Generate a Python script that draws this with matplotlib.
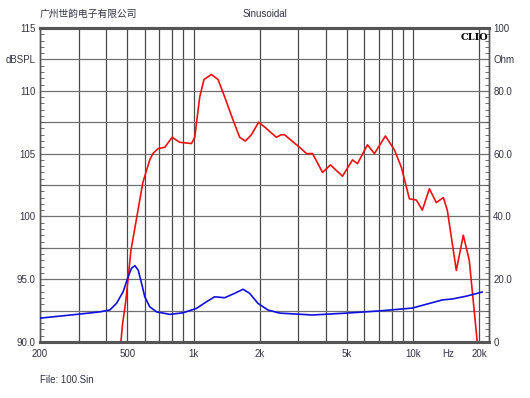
import matplotlib
matplotlib.use('Agg')
import matplotlib.pyplot as plt
from matplotlib.ticker import FixedLocator, MultipleLocator

plt.rcParams['font.family'] = ['Liberation Sans', 'Noto Sans CJK SC', 'DejaVu Sans']

# SPL curve (dB SPL, left axis)
spl_freq = [467, 475, 492, 519, 588, 632, 653, 690, 740, 799, 866, 979, 1013,
            1067, 1116, 1206, 1293, 1387, 1512, 1622, 1722, 1834, 1979, 2146,
            2382, 2510, 2598, 3039, 3271, 3484, 3868, 4204, 4768, 5294, 5580,
            6194, 6663, 7478, 8216, 8842, 9612, 10342, 11012, 11854, 12750,
            13722, 14306, 15726, 16918, 18012, 19586]
spl_db = [90.0, 91.4, 93.3, 97.3, 102.7, 104.5, 105.0, 105.4, 105.5, 106.3,
          105.9, 105.8, 106.3, 109.5, 110.9, 111.3, 110.9, 109.5, 107.7, 106.3,
          106.0, 106.5, 107.5, 107.0, 106.3, 106.5, 106.5, 105.5, 105.0, 105.0,
          103.5, 104.1, 103.2, 104.5, 104.2, 105.7, 105.0, 106.4, 105.3, 103.9,
          101.4, 101.3, 100.5, 102.2, 101.1, 101.5, 100.5, 95.7, 98.5, 96.5,
          90.0]

# impedance curve (Ohm, right axis)
imp_freq = [200, 304, 375, 416, 446, 478, 504, 522, 541, 560, 580, 600, 632,
            679, 780, 896, 1031, 1145, 1249, 1387, 1540, 1680, 1801, 1965, 2182,
            2467, 3484, 4972, 7026, 9900, 13580, 15080, 17460, 20630]
imp_ohm = [7.6, 8.9, 9.6, 10.2, 12.3, 16.0, 20.8, 23.5, 24.3, 22.9, 18.7, 14.4,
           11.2, 9.6, 8.8, 9.3, 10.7, 12.8, 14.4, 14.1, 15.5, 16.8, 15.5, 12.3,
           10.2, 9.2, 8.6, 9.2, 9.9, 10.8, 13.4, 13.7, 14.6, 15.9]

grid_freqs = [300, 400, 500, 600, 700, 800, 900, 1000, 2000, 3000, 4000, 5000,
              6000, 7000, 8000, 9000, 10000, 20000]
x_ticks = [200, 500, 1000, 2000, 5000, 10000, 14500, 20000]
x_labels = ['200', '500', '1k', '2k', '5k', '10k', 'Hz', '20k']
left_ticks = [90, 95, 100, 105, 110, 112.5, 115]
left_labels = ['90.0', '95.0', '100', '105', '110', 'dBSPL', '115']
right_ticks = [0, 20, 40, 60, 80, 90, 100]
right_labels = ['0', '20.0', '40.0', '60.0', '80.0', 'Ohm', '100']

fig = plt.figure(figsize=(5.3, 3.98), dpi=100)
ax = fig.add_axes([40 / 530, 1 - 342 / 398, 449 / 530, 314 / 398])
ax.set_xscale('log')
ax.set_xlim(200, 22150)
ax.set_ylim(90, 115)

gc = '#4a4a4a'
for f in grid_freqs:
    ax.axvline(f, color=gc, lw=0.9, zorder=1)
for y in [92.5, 95, 97.5, 100, 102.5, 105, 107.5, 110, 112.5]:
    ax.axhline(y, color='#707070', lw=0.9, zorder=1)

ax.plot(spl_freq, spl_db, color='#ee1111', lw=1.2, zorder=3)

ax2 = ax.twinx()
ax2.set_ylim(0, 100)
ax2.plot(imp_freq, imp_ohm, color='#1010dd', lw=1.2, zorder=3)

tc = '#333344'
ax.xaxis.set_major_locator(FixedLocator(x_ticks))
ax.set_xticklabels(x_labels)
ax.xaxis.set_minor_locator(FixedLocator([]))
ax.tick_params(axis='x', length=0, pad=5, labelsize=7, labelcolor=tc)

ax.yaxis.set_major_locator(FixedLocator(left_ticks))
ax.set_yticklabels(left_labels)
ax.yaxis.set_minor_locator(MultipleLocator(0.5))
ax.tick_params(axis='y', which='major', direction='in', length=0, pad=3,
               labelsize=7, labelcolor=tc)
ax.tick_params(axis='y', which='minor', direction='in', length=3, color='#555555')

ax2.yaxis.set_major_locator(FixedLocator(right_ticks))
ax2.set_yticklabels(right_labels)
ax2.yaxis.set_minor_locator(MultipleLocator(2))
ax2.tick_params(axis='y', which='major', direction='in', length=0, pad=3,
                labelsize=7, labelcolor=tc)
ax2.tick_params(axis='y', which='minor', direction='in', length=3, color='#555555')

for a in (ax, ax2):
    for side in ['top', 'bottom', 'left', 'right']:
        a.spines[side].set_color('#555555')
    a.spines['top'].set_linewidth(2.2)
    a.spines['bottom'].set_linewidth(2.2)
    a.spines['left'].set_linewidth(1)
    a.spines['right'].set_linewidth(1)

fig.text(40 / 530, 1 - 14 / 398, '广州世韵电子有限公司', fontsize=7, color=tc,
         va='center', family=['Noto Sans CJK SC', 'DejaVu Sans'])
fig.text(265 / 530, 1 - 14 / 398, 'Sinusoidal', fontsize=7, color=tc,
         va='center', ha='center')
fig.text(40 / 530, 1 - 380 / 398, 'File: 100.Sin', fontsize=7, color=tc,
         va='center')
ax.text(0.998, 0.985, 'CLIO', transform=ax.transAxes, ha='right', va='top',
        fontsize=7, fontweight='bold', family='DejaVu Serif', zorder=5)

fig.savefig('out.png', dpi=100)
